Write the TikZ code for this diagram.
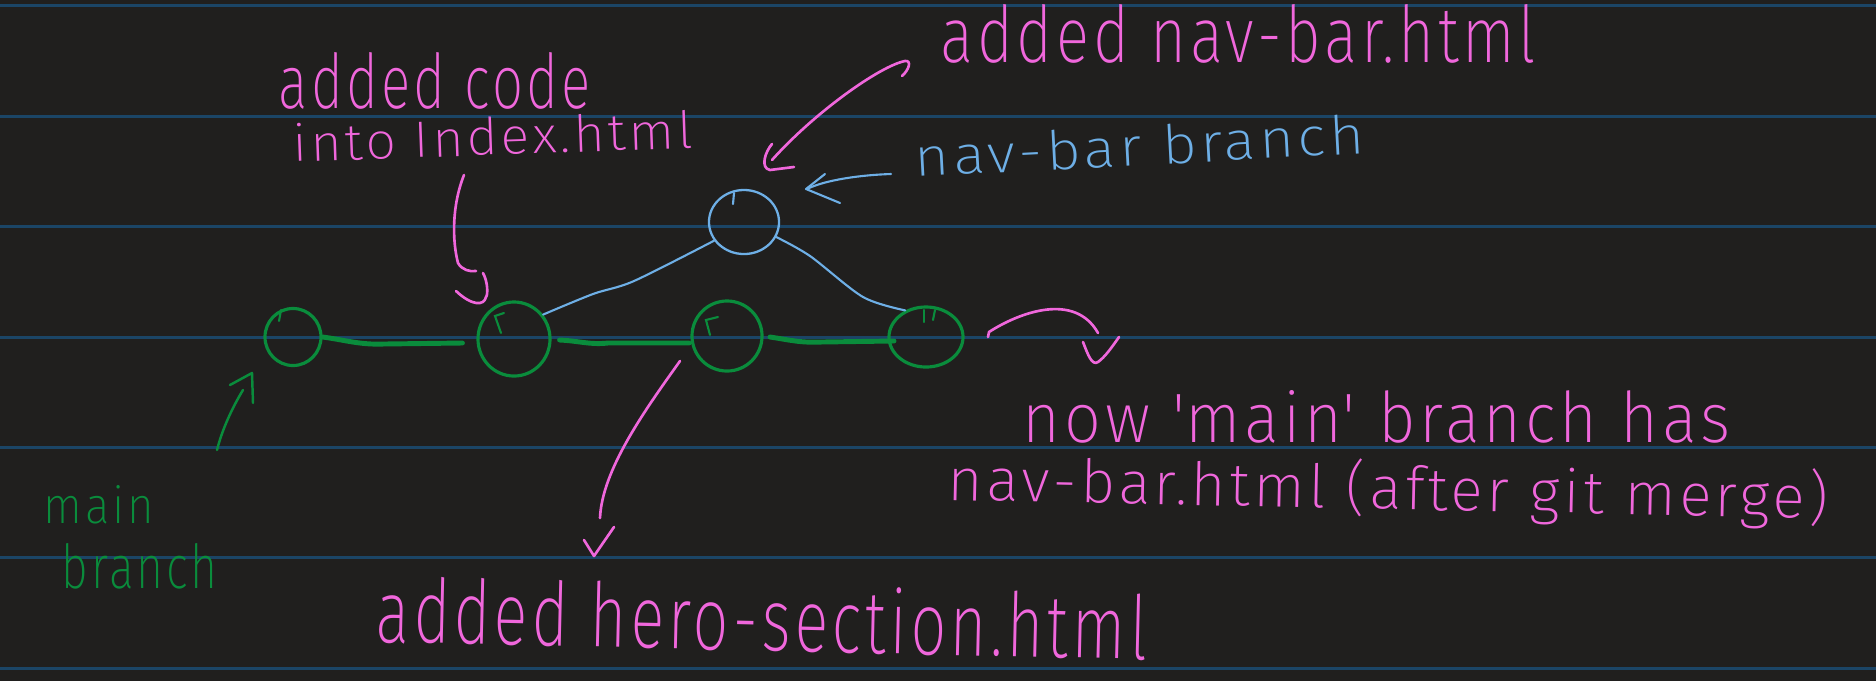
\documentclass[tikz,border=0pt]{standalone}
\usepackage{fontspec}
\usepackage{graphicx}
\IfFontExistsTF{Fira Sans ExtraLight}
  {\setmainfont{Fira Sans ExtraLight}[LetterSpace=6]}
  {\setmainfont{Fira Sans Light}[LetterSpace=6]}
\usetikzlibrary{shapes.geometric}
\definecolor{bg}{HTML}{201F1E}
\definecolor{ruleline}{HTML}{1B4566}
\definecolor{pinkink}{HTML}{F067DC}
\definecolor{greenink}{HTML}{0A8C3C}
\definecolor{blueink}{HTML}{6EAFE6}
\begin{document}
\begin{tikzpicture}[x=0.01cm,y=-0.01cm,
  rule/.style={ruleline, line width=0.85pt},
  gcirc/.style={ellipse, draw=greenink, line width=0.9pt, inner sep=0pt},
  bcirc/.style={ellipse, draw=blueink, line width=0.65pt, inner sep=0pt},
  gline/.style={greenink, line width=1.4pt, line cap=round},
  bline/.style={blueink, line width=0.6pt, line cap=round, line join=round},
  pline/.style={pinkink, line width=0.75pt, line cap=round, line join=round},
  gthin/.style={greenink, line width=0.7pt, line cap=round, line join=round},
  tick/.style={line width=0.6pt, line cap=round},
  hand/.style={inner sep=0pt, anchor=base west}]
\fill[bg] (0,0) rectangle (1876,681);
\useasboundingbox (0,0) rectangle (1876,681);
% ruled lines
\foreach \yy in {5.7,116,226.4,337,447.4,557.8,668}
  \draw[rule] (0,\yy) -- (1876,\yy);

% commits
\node[gcirc, minimum width=0.56cm, minimum height=0.57cm] (c1) at (293,337) {};
\node[gcirc, minimum width=0.72cm, minimum height=0.74cm] (c2) at (514,339) {};
\node[gcirc, minimum width=0.70cm, minimum height=0.70cm] (c3) at (727,336) {};
\node[gcirc, minimum width=0.74cm, minimum height=0.60cm] (c4) at (926,337) {};
\node[bcirc, minimum width=0.70cm, minimum height=0.64cm] (cb) at (744,222) {};

% pen ticks inside circles
\draw[tick, greenink] (279,321) -- (281,310);
\draw[tick, greenink] (501,333) -- (495,316) -- (504,313);
\draw[tick, greenink] (710,335) -- (706,320) -- (718,317);
\draw[tick, greenink] (924,322) -- (924,310);
\draw[tick, greenink] (933,320) -- (935,310);
\draw[tick, blueink] (733,204) -- (734,193);

% main branch connectors
\draw[gline] (c1.east) .. controls (345,340) and (360,345) .. (384,344) -- ([xshift=-0.14cm]c2.west|-0,343);
\draw[gline] ([xshift=0.08cm]c2.east|-0,340) .. controls (580,341) and (590,345) .. (608,343) -- (689,343);
\draw[gline] (770,337) .. controls (790,340) and (800,343) .. (822,342) -- (894,341);

% nav-bar branch connectors
\draw[bline] plot[smooth, tension=0.5] coordinates {(c2.40) (593,294) (634,281) (cb.212)};
\draw[bline] plot[smooth, tension=0.5] coordinates {(cb.-25) (810,256) (863,297) (c4.128)};

% texts
\node[hand, text=pinkink] (t1) at (940,62) {\resizebox{5.95cm}{0.58cm}{added nav-bar.html}};
\node[hand, text=pinkink] (t2) at (278,108) {\resizebox{3.12cm}{0.56cm}{added code}};
\node[hand, text=pinkink, rotate=2] (t3) at (293,162) {\resizebox{4.0cm}{0.38cm}{into Index.html}};
\node[hand, text=blueink, rotate=3] (t4) at (915,177) {\resizebox{4.5cm}{0.40cm}{nav-bar branch}};
\node[hand, text=greenink] (t5) at (43,523) {\resizebox{1.10cm}{0.38cm}{main}};
\node[hand, text=greenink] (t6) at (61,588) {\resizebox{1.56cm}{0.45cm}{branch}};
\node[hand, text=pinkink] (t7) at (1022,442) {\resizebox{7.07cm}{0.52cm}{now \textquotesingle main\textquotesingle\ branch has}};
\node[hand, text=pinkink, rotate=-1.2] (t8) at (947,500) {\resizebox{8.8cm}{0.50cm}{nav-bar.html (after git merge)}};
\node[hand, text=pinkink, rotate=-1.3] (t9) at (375,642) {\resizebox{7.71cm}{0.66cm}{added hero-section.html}};

% arrow: added code into index.html -> c2
\coordinate (a1s) at (464,175);
\coordinate (a1h) at (486,297);
\draw[pline] (a1s) .. controls (452,205) and (452,240) .. (458,263) .. controls (462,270) and (470,272) .. (476,271);
\draw[pline] (483,273) .. controls (488,282) and (488,295) .. (a1h) .. controls (484,306) and (472,306) .. (456,291);

% arrow: added nav-bar.html -> cb
\coordinate (a2s) at (902,76);
\coordinate (a2e) at (772,160);
\draw[pline] (a2s) .. controls (909,70) and (912,60) .. (905,61) .. controls (880,66) and (815,112) .. (a2e);
\draw[pline] (772,144) .. controls (765,152) and (760,168) .. (770,170) -- (794,167);

% arrow: nav-bar branch -> cb
\coordinate (a3s) at (891,174);
\coordinate (a3e) at (807,189);
\draw[bline] (a3s) .. controls (860,175) and (825,180) .. (a3e);
\draw[bline] (825,174) -- (806,189) -- (840,203);

% arrow: main branch -> c1
\coordinate (a4s) at (217,450);
\coordinate (a4e) at (243,390);
\draw[gthin] (a4s) .. controls (222,430) and (232,408) .. (a4e);
\draw[gthin] (230,385) -- (252,373) -- (253,403);

% arrow: added hero-section.html -> c3
\coordinate (a5s) at (680,361);
\coordinate (a5e) at (600,518);
\draw[pline] (a5s) .. controls (645,410) and (602,470) .. (a5e);
\draw[pline] (584,540) -- (594,556) -- (614,527);

% squiggle after last commit
\coordinate (a6s) at (988,337);
\draw[pline] (a6s) -- (989,332) .. controls (1020,312) and (1075,292) .. (1098,333);
\draw[pline] (1083,342) .. controls (1088,355) and (1092,366) .. (1098,362) .. controls (1105,357) and (1112,347) .. (1119,337);
\end{tikzpicture}
\end{document}
